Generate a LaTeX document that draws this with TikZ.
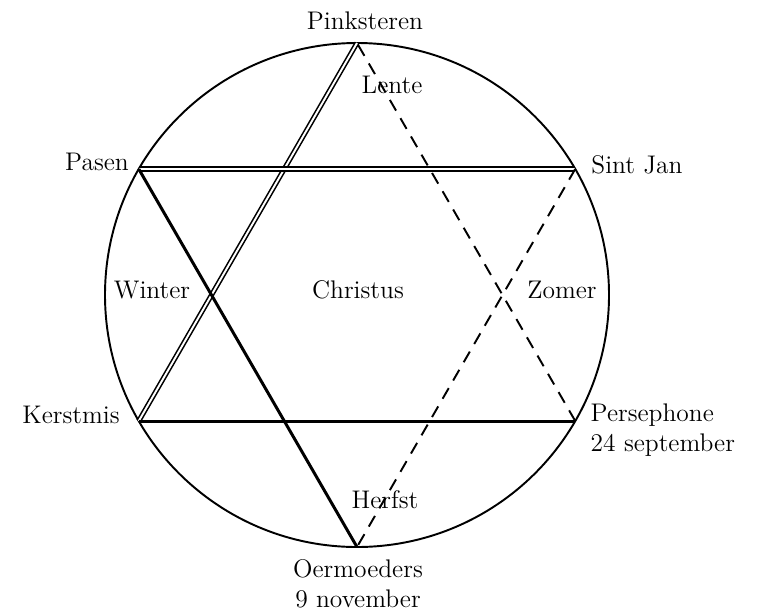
\documentclass[tikz,border=0pt]{standalone}
\usepackage{tikz}
\usetikzlibrary{calc}

\begin{document}
\begin{tikzpicture}[
  x=0.02cm, y=0.02cm,
  line width=1.1pt,
  % solid sides of the two triangles
  side/.style={line width=1.7pt},
  % sides drawn as a hollow double stroke
  hollow/.style={double, double distance=1.1pt, line width=0.9pt},
  % sides that are only dashed
  dash side/.style={line width=1.1pt, dash pattern=on 7pt off 5pt},
  lbl/.style={font=\fontsize{14.5}{17}\selectfont, inner sep=1pt},
]

%--- frame ---------------------------------------------------------------------
\useasboundingbox (0,0) rectangle (759,610);

%--- circle and the six points of the star ------------------------------------
\def\rc{252}          % radius of the circle
\coordinate (ctr) at (357,315);
\draw (ctr) circle (\rc);

\foreach \ang/\name in {90/pink, 150/pasen, 210/kerst, 270/oer, 330/pers, 30/jan}
  \coordinate (\name) at ($(ctr)+(\ang:\rc)$);

%--- first triangle: Pinksteren, Kerstmis, Persephone --------------------------
\draw[hollow] (pink) -- (kerst);
\draw[side] (kerst) -- (pers);
\draw[dash side] (pers) -- (pink);

%--- second triangle: Pasen, Sint Jan, Oermoeders ------------------------------
\draw[hollow] (pasen) -- (jan);
\draw[dash side] (jan) -- (oer);
\draw[side] (oer) -- (pasen);

%--- names at the points -------------------------------------------------------
\node[lbl] (tpink) at (365,589) {Pinksteren};
\node[lbl] (tpasen) at (97,448) {Pasen};
\node[lbl] (tjan) at (637,445) {Sint Jan};
\node[lbl] (tkerst) at (71,195) {Kerstmis};
\node[lbl,anchor=west,align=left] (tpers) at (588,180) {Persephone\\24 september};
\node[lbl,align=center] (toer) at (358,26) {Oermoeders\\9 november};

%--- seasons and the centre ----------------------------------------------------
\node[lbl] (lente) at (392,525) {Lente};
\node[lbl] (winter) at (152,320) {Winter};
\node[lbl] (christus) at (358,320) {Christus};
\node[lbl] (zomer) at (562,320) {Zomer};
\node[lbl] (herfst) at (385,110) {Herfst};

\end{tikzpicture}
\end{document}
